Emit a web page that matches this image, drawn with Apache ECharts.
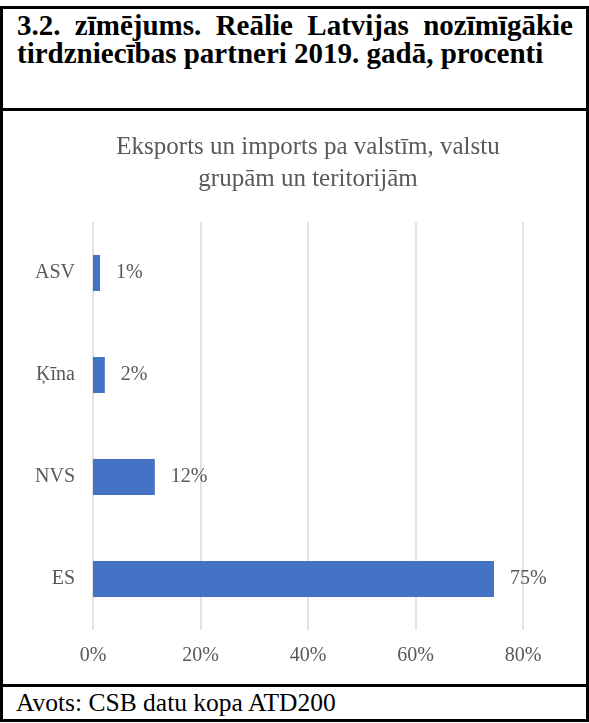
<!DOCTYPE html>
<html>
<head>
<meta charset="utf-8">
<script src="https://cdn.jsdelivr.net/npm/echarts@6/dist/echarts.min.js"></script>
<style>
  html, body { margin: 0; padding: 0; background: #fff; }
  #page { position: relative; width: 589px; height: 723px; overflow: hidden; }
  .box { position: absolute; left: 0; top: 6px; width: 589px; height: 716px; box-sizing: border-box; border: 3px solid #000; }
  .rule { position: absolute; left: 0; width: 589px; height: 3px; background: #000; }
  .head { position: absolute; left: 17px; top: 11px; width: 556px;
          font: bold 29px/28px "Liberation Serif", "Times New Roman", serif; color: #000; }
  .head .l1 { text-align: justify; text-align-last: justify; white-space: nowrap; }
  .foot { position: absolute; left: 16px; top: 690px;
          font: 25.5px/25px "Liberation Serif", "Times New Roman", serif; color: #000; white-space: nowrap; }
  #chart { position: absolute; left: 3px; top: 111px; width: 582px; height: 573px; }
</style>
</head>
<body>
<div id="page">
  <div class="box"></div>
  <div class="rule" style="top:108px"></div>
  <div class="rule" style="top:684px"></div>
  <div class="head">
    <div class="l1">3.2. zīmējums. Reālie Latvijas nozīmīgākie</div>
    <div>tirdzniecības partneri 2019. gadā, procenti</div>
  </div>
  <div id="chart"></div>
  <div class="foot">Avots: CSB datu kopa ATD200</div>
</div>
<script>
const chartTitle = 'Eksports un imports pa valstīm, valstu\ngrupām un teritorijām';
const categories = ['ES', 'NVS', 'Ķīna', 'ASV'];
const shares = [74.6, 11.5, 2.2, 1.3];
const axisMin = 0;
const axisMax = 80;
const axisStep = 20;

const serif = '"Liberation Serif", "Times New Roman", serif';
const grey = '#595959';

const chart = echarts.init(document.getElementById('chart'));

chart.setOption({
  animation: false,
  title: {
    text: chartTitle,
    left: 305,
    top: 20,
    textAlign: 'center',
    padding: 0,
    textStyle: {
      fontFamily: serif,
      fontSize: 25,
      fontWeight: 'normal',
      color: grey,
      lineHeight: 32
    }
  },
  grid: {
    left: 90,
    top: 111,
    width: 430,
    height: 408,
    containLabel: false
  },
  xAxis: {
    type: 'value',
    min: axisMin,
    max: axisMax,
    interval: axisStep,
    axisLine: { show: false },
    axisTick: { show: false },
    splitLine: { lineStyle: { color: '#d9d9d9', width: 1.5 } },
    axisLabel: {
      formatter: '{value}%',
      fontFamily: serif,
      fontSize: 20,
      color: grey,
      margin: 16
    }
  },
  yAxis: {
    type: 'category',
    data: categories,
    axisLine: { show: false },
    axisTick: { show: false },
    axisLabel: {
      fontFamily: serif,
      fontSize: 20,
      color: grey,
      margin: 18
    }
  },
  series: [{
    type: 'bar',
    data: shares,
    barWidth: 36,
    itemStyle: { color: '#4472C4' },
    label: {
      show: true,
      position: 'right',
      distance: 16,
      fontFamily: serif,
      fontSize: 20,
      color: grey,
      formatter: p => Math.round(p.value) + '%'
    }
  }]
});
</script>
</body>
</html>
